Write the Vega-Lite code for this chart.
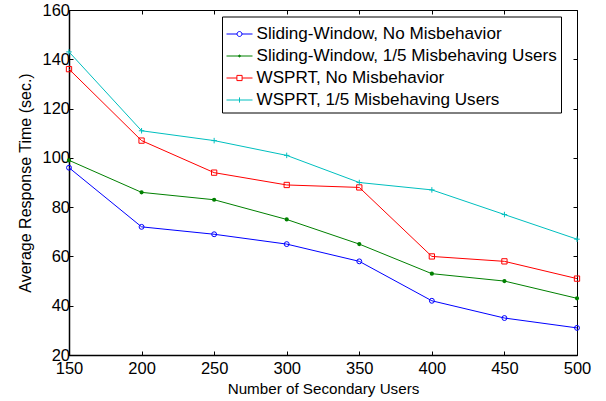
{
  "$schema": "https://vega.github.io/schema/vega-lite/v6.json",
  "autosize": {"type": "none"},
  "padding": {"left": 69, "top": 10, "right": 29, "bottom": 46},
  "width": 508,
  "height": 345,
  "background": "white",
  "config": {
    "view": {"stroke": "black", "strokeWidth": 1},
    "font": "Liberation Sans",
    "axis": {
      "labelFont": "Liberation Sans",
      "titleFont": "Liberation Sans",
      "labelFontSize": 16.5,
      "titleFontWeight": "normal",
      "labelColor": "black",
      "titleColor": "black",
      "domainColor": "black",
      "tickColor": "black",
      "grid": false
    },
    "legend": {
      "orient": "none", "legendX": 153, "legendY": 6.5,
      "padding": 4, "strokeColor": "black", "fillColor": "white", "cornerRadius": 0,
      "labelFont": "Liberation Sans", "labelFontSize": 17.1, "labelColor": "black",
      "labelOffset": 3.5, "rowPadding": -0.3, "symbolSize": 676, "symbolStrokeWidth": 1, "labelLimit": 400,
      "symbolFillColor": "transparent"
    }
  },
  "data": {
    "values": [
      {"users": 150, "time": 96, "series": "Sliding-Window, No Misbehavior"},
      {"users": 200, "time": 72, "series": "Sliding-Window, No Misbehavior"},
      {"users": 250, "time": 69, "series": "Sliding-Window, No Misbehavior"},
      {"users": 300, "time": 65, "series": "Sliding-Window, No Misbehavior"},
      {"users": 350, "time": 58, "series": "Sliding-Window, No Misbehavior"},
      {"users": 400, "time": 42, "series": "Sliding-Window, No Misbehavior"},
      {"users": 450, "time": 35, "series": "Sliding-Window, No Misbehavior"},
      {"users": 500, "time": 31, "series": "Sliding-Window, No Misbehavior"},
      {"users": 150, "time": 99, "series": "Sliding-Window, 1/5 Misbehaving Users"},
      {"users": 200, "time": 86, "series": "Sliding-Window, 1/5 Misbehaving Users"},
      {"users": 250, "time": 83, "series": "Sliding-Window, 1/5 Misbehaving Users"},
      {"users": 300, "time": 75, "series": "Sliding-Window, 1/5 Misbehaving Users"},
      {"users": 350, "time": 65, "series": "Sliding-Window, 1/5 Misbehaving Users"},
      {"users": 400, "time": 53, "series": "Sliding-Window, 1/5 Misbehaving Users"},
      {"users": 450, "time": 50, "series": "Sliding-Window, 1/5 Misbehaving Users"},
      {"users": 500, "time": 43, "series": "Sliding-Window, 1/5 Misbehaving Users"},
      {"users": 150, "time": 136, "series": "WSPRT, No Misbehavior"},
      {"users": 200, "time": 107, "series": "WSPRT, No Misbehavior"},
      {"users": 250, "time": 94, "series": "WSPRT, No Misbehavior"},
      {"users": 300, "time": 89, "series": "WSPRT, No Misbehavior"},
      {"users": 350, "time": 88, "series": "WSPRT, No Misbehavior"},
      {"users": 400, "time": 60, "series": "WSPRT, No Misbehavior"},
      {"users": 450, "time": 58, "series": "WSPRT, No Misbehavior"},
      {"users": 500, "time": 51, "series": "WSPRT, No Misbehavior"},
      {"users": 150, "time": 143, "series": "WSPRT, 1/5 Misbehaving Users"},
      {"users": 200, "time": 111, "series": "WSPRT, 1/5 Misbehaving Users"},
      {"users": 250, "time": 107, "series": "WSPRT, 1/5 Misbehaving Users"},
      {"users": 300, "time": 101, "series": "WSPRT, 1/5 Misbehaving Users"},
      {"users": 350, "time": 90, "series": "WSPRT, 1/5 Misbehaving Users"},
      {"users": 400, "time": 87, "series": "WSPRT, 1/5 Misbehaving Users"},
      {"users": 450, "time": 77, "series": "WSPRT, 1/5 Misbehaving Users"},
      {"users": 500, "time": 67, "series": "WSPRT, 1/5 Misbehaving Users"}
    ]
  },
  "resolve": {"axis": {"x": "independent", "y": "independent"}},
  "layer": [
    {
      "mark": {"type": "line", "strokeWidth": 1, "clip": false},
      "encoding": {
        "x": {
          "field": "users", "type": "quantitative",
          "scale": {"domain": [150, 500], "nice": false, "zero": false},
          "axis": {
            "orient": "bottom", "values": [150, 200, 250, 300, 350, 400, 450, 500],
            "title": "Number of Secondary Users", "titleFontSize": 15.2, "tickSize": -4, "labelPadding": 9,
            "domainWidth": 1.5, "titlePadding": 5, "labelFlush": false, "labelOverlap": false
          }
        },
        "y": {
          "field": "time", "type": "quantitative",
          "scale": {"domain": [20, 160], "nice": false, "zero": false},
          "axis": {
            "orient": "left", "values": [20, 40, 60, 80, 100, 120, 140, 160],
            "title": "Average Response Time (sec.)", "titleFontSize": 16, "tickSize": -4, "labelPadding": 3.5,
            "domainWidth": 1.5, "titlePadding": 8, "labelFlush": false, "labelOverlap": false
          }
        },
        "color": {
          "field": "series", "type": "nominal",
          "scale": {
            "domain": ["Sliding-Window, No Misbehavior", "Sliding-Window, 1/5 Misbehaving Users", "WSPRT, No Misbehavior", "WSPRT, 1/5 Misbehaving Users"],
            "range": ["#0000ff", "#008000", "#ff0000", "#00bfbf"]
          },
          "legend": {
            "title": null,
            "encode": {
              "symbols": {
                "update": {
                  "size": {"value": 676},
                  "fill": {"value": "transparent"},
                  "strokeWidth": {"value": 1},
                  "shape": {"signal": "datum.value === 'Sliding-Window, No Misbehavior' ? 'M-1,0H-0.19A0.19,0.19 0 1,1 0.19,0A0.19,0.19 0 1,1 -0.19,0M0.19,0H1' : datum.value === 'Sliding-Window, 1/5 Misbehaving Users' ? 'M-1,0H1M-0.07,0A0.07,0.07 0 1,1 0.07,0A0.07,0.07 0 1,1 -0.07,0M-0.04,0A0.04,0.04 0 1,1 0.04,0A0.04,0.04 0 1,1 -0.04,0' : datum.value === 'WSPRT, No Misbehavior' ? 'M-1,0H-0.2V-0.2H0.2V0.2H-0.2V0M0.2,0H1' : 'M-1,0H1M0,-0.2V0.2'"}
                }
              }
            }
          }
        }
      }
    },
    {
      "transform": [{"filter": "datum.series === 'Sliding-Window, No Misbehavior'"}],
      "mark": {"type": "point", "shape": "circle", "filled": false, "size": 24, "strokeWidth": 1, "opacity": 1, "clip": false},
      "encoding": {
        "x": {
          "field": "users", "type": "quantitative",
          "axis": {"orient": "top", "values": [150, 200, 250, 300, 350, 400, 450, 500], "labels": false, "title": null, "tickSize": -4, "domain": false}
        },
        "y": {
          "field": "time", "type": "quantitative",
          "axis": {"orient": "right", "values": [20, 40, 60, 80, 100, 120, 140, 160], "labels": false, "title": null, "tickSize": -4, "domain": false}
        },
        "color": {"field": "series", "type": "nominal"}
      }
    },
    {
      "transform": [{"filter": "datum.series === 'Sliding-Window, 1/5 Misbehaving Users'"}],
      "mark": {"type": "point", "shape": "circle", "filled": false, "size": 4, "strokeWidth": 2.2, "opacity": 1, "clip": false},
      "encoding": {
        "x": {"field": "users", "type": "quantitative", "axis": null},
        "y": {"field": "time", "type": "quantitative", "axis": null},
        "color": {"field": "series", "type": "nominal"}
      }
    },
    {
      "transform": [{"filter": "datum.series === 'WSPRT, No Misbehavior'"}],
      "mark": {"type": "point", "shape": "square", "filled": false, "size": 28, "strokeWidth": 1, "opacity": 1, "clip": false},
      "encoding": {
        "x": {"field": "users", "type": "quantitative", "axis": null},
        "y": {"field": "time", "type": "quantitative", "axis": null},
        "color": {"field": "series", "type": "nominal"}
      }
    },
    {
      "transform": [{"filter": "datum.series === 'WSPRT, 1/5 Misbehaving Users'"}],
      "mark": {"type": "point", "shape": "M-1,0H1M0,-1V1", "filled": false, "size": 30, "strokeWidth": 1, "opacity": 1, "clip": false},
      "encoding": {
        "x": {"field": "users", "type": "quantitative", "axis": null},
        "y": {"field": "time", "type": "quantitative", "axis": null},
        "color": {"field": "series", "type": "nominal"}
      }
    }
  ]
}
